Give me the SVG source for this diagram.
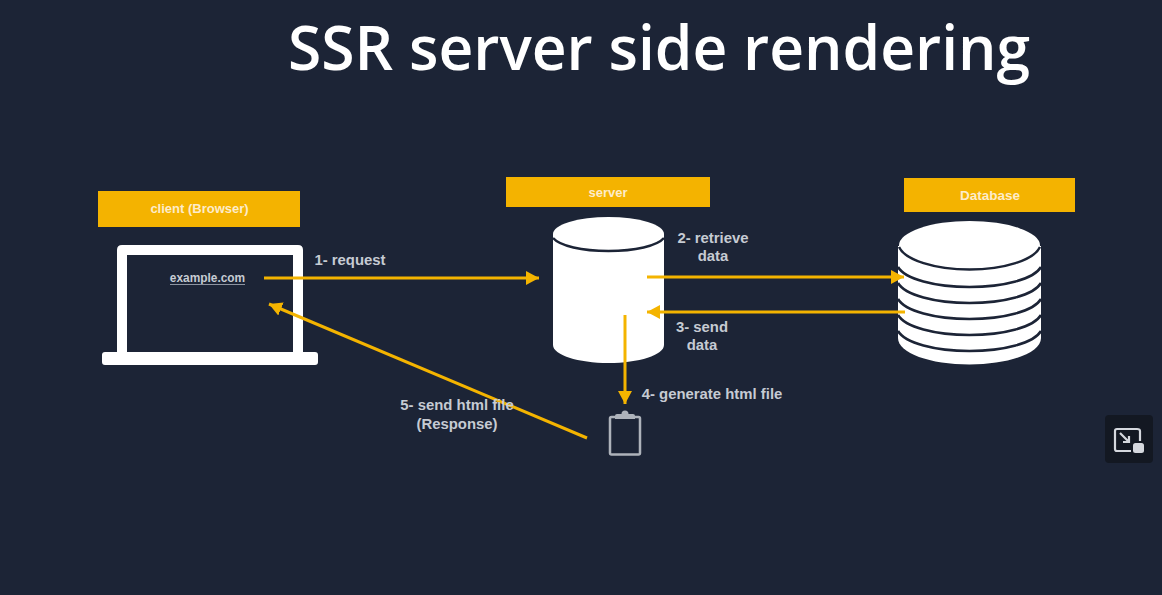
<svg xmlns="http://www.w3.org/2000/svg" width="1162" height="595" viewBox="0 0 1162 595">
<style>
text{font-family:"Liberation Sans",Arial,sans-serif;text-anchor:middle}
.title{font-family:"Open Sans","Liberation Sans",sans-serif;font-size:62px;font-weight:600;fill:#fff;text-anchor:start}
.lab{font-size:14.900px;font-weight:700;fill:#c6cbd3}
.hd{font-size:13px;font-weight:700;fill:#fdeccb}
.box{fill:#f4b300}
.w{fill:#fff}
.arc{fill:none;stroke:#1c2436;stroke-width:2.500}
.cn{fill:none;stroke:#f4b400;stroke-width:3}
</style>
<defs>
<marker id="ah" markerUnits="userSpaceOnUse" markerWidth="15" markerHeight="15" refX="13" refY="7" orient="auto"><path d="M0 0L13 7L0 14z" fill="#f4b400"/></marker>
</defs>
<rect width="1162" height="595" fill="#1c2436"/>
<text id="title" class="title" x="288" y="70" textLength="742" lengthAdjust="spacingAndGlyphs">SSR server side rendering</text>
<g id="client">
<rect class="box" x="98" y="191" width="202" height="36"/>
<text class="hd" x="199.500" y="213">client (Browser)</text>
<path class="w" fill-rule="evenodd" d="M122 245H298Q303 245 303 250V352H315Q318 352 318 355V362Q318 365 315 365H105Q102 365 102 362V355Q102 352 105 352H117V250Q117 245 122 245ZM127 255V352H293V255Z"/>
<text class="lab" x="207.500" y="282" style="font-size:11.900px">example.com</text>
<rect x="170" y="284" width="75" height="1" fill="#8d94a1"/>
</g>
<g id="server">
<rect class="box" x="506" y="177" width="204" height="30"/>
<text class="hd" x="608" y="197">server</text>
<path class="w" d="M553 234V345C553 355 578 363 608.500 363C639 363 664 355 664 345V234Z"/>
<ellipse cx="608.500" cy="234" rx="55.500" ry="17" class="w"/>
<path class="arc" d="M553 238C560 246 582 251 608.500 251C635 251 657 246 664 238"/>
</g>
<g id="database">
<rect class="box" x="904" y="178" width="171" height="34"/>
<text class="hd" x="990" y="200" style="font-size:13.500px">Database</text>
<path class="w" d="M898 246V338C898 353 930 364.500 969.500 364.500C1009 364.500 1041 353 1041 338V246Z"/>
<ellipse cx="969.500" cy="245.500" rx="70.500" ry="24.500" class="w"/>
<path class="arc" d="M899 247C905 260 935 269.500 969.500 269.500C1004 269.500 1034 260 1040 247"/>
<path class="arc" d="M898 267C905 279 935 287 969.500 287C1004 287 1034 279 1041 267"/>
<path class="arc" d="M898 283C905 295 935 303 969.500 303C1004 303 1034 295 1041 283"/>
<path class="arc" d="M898 299C905 311 935 319 969.500 319C1004 319 1034 311 1041 299"/>
<path class="arc" d="M898 315C905 327 935 335 969.500 335C1004 335 1034 327 1041 315"/>
<path class="arc" d="M898 331C905 343 935 351 969.500 351C1004 351 1034 343 1041 331"/>
</g>
<g id="document">
<rect x="610" y="417" width="30" height="37.500" rx="1.500" fill="none" stroke="#aeb3bb" stroke-width="2.500"/>
<path d="M615 419V416Q615 414 617 414H621.500A3.500 3.500 0 0 1 628.500 414H633Q635 414 635 416V419Z" fill="#aeb3bb"/>
</g>
<g id="connectors">
<path class="cn" d="M264 278H539" marker-end="url(#ah)"/>
<path class="cn" d="M647 277H904" marker-end="url(#ah)"/>
<path class="cn" d="M905 312H647" marker-end="url(#ah)"/>
<path class="cn" d="M625 315V404" marker-end="url(#ah)"/>
<path class="cn" d="M587 438L269 304" marker-end="url(#ah)"/>
</g>
<g id="labels">
<text class="lab" x="350" y="264.500">1- request</text>
<text class="lab" x="713" y="242.500">2- retrieve</text>
<text class="lab" x="713" y="260.500">data</text>
<text class="lab" x="702" y="331.500">3- send</text>
<text class="lab" x="702" y="349.500">data</text>
<text class="lab" x="712" y="399">4- generate html file</text>
<text class="lab" x="457" y="410">5- send html file</text>
<text class="lab" x="457" y="429">(Response)</text>
</g>
<g id="corner-button">
<rect x="1105" y="415" width="48" height="48" rx="4" fill="#131822"/>
<path d="M1131 451H1117Q1115 451 1115 449V431Q1115 429 1117 429H1137Q1140 429 1140 431V441" fill="none" stroke="#d5d8de" stroke-width="2.200"/>
<path d="M1120 433L1129 442M1129 436V442H1123" fill="none" stroke="#d5d8de" stroke-width="2.200"/>
<rect x="1133" y="443" width="11" height="10" rx="2.500" fill="#d5d8de"/>
</g>
</svg>
